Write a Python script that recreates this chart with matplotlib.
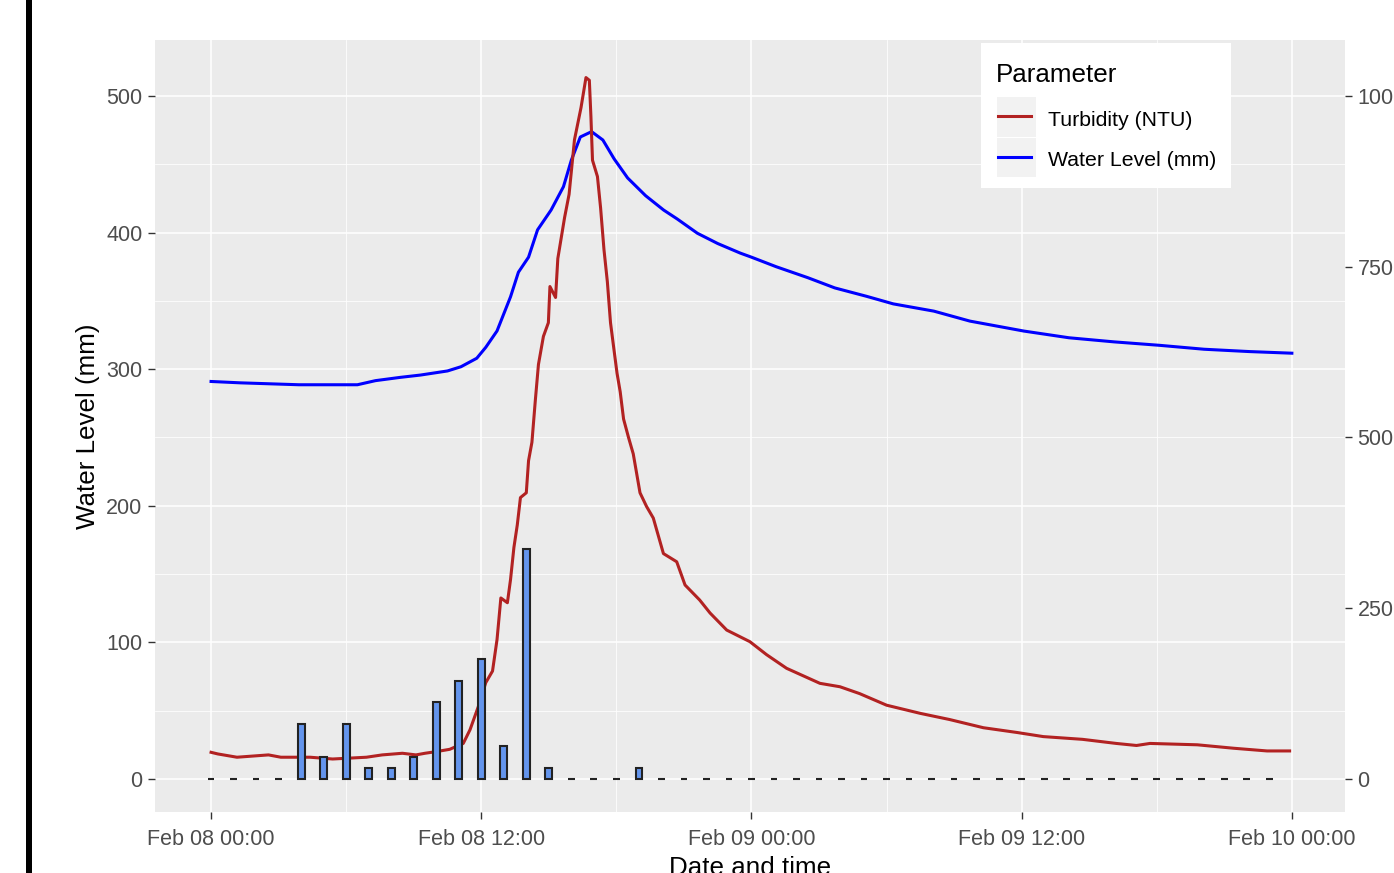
import matplotlib
matplotlib.use("Agg")
import matplotlib.pyplot as plt
from matplotlib.patches import Rectangle
from matplotlib.lines import Line2D
import numpy as np

plt.rcParams['font.family'] = ['Liberation Sans', 'DejaVu Sans']

# ---------------- data (hours after Feb 08 00:00) ----------------
rain_hours = list(range(0, 48))
rain_values = [0, 0, 0, 0, 40, 16, 40, 8, 8, 16, 56, 72, 88, 24, 168, 8,
               0, 0, 0, 8] + [0] * 28

wl_hours = [0, 1.3, 3.9, 6.5, 7.3, 8.4, 9.3, 10.5, 11.1, 11.8,
            12.2, 12.7, 13.3, 13.65, 14.1, 14.5, 15.1, 15.65, 16.0, 16.4,
            16.9, 17.4, 17.9, 18.5, 19.3, 20.1, 20.7, 21.6, 22.5, 23.5,
            24.0, 25.1, 26.5, 27.7, 29.1, 30.3, 32.1, 33.7, 36.1, 38.1,
            40.1, 42.1, 44.1, 46.1, 48.0]
wl_values = [291, 290, 288.6, 288.6, 291.6, 294, 295.7, 298.7, 301.8, 308,
             316, 328, 353, 371, 382, 402, 416.5, 433.6, 453, 470,
             473.9, 467.8, 454, 440, 427, 416.5, 410, 399.5, 392, 385,
             382, 375, 367, 359.5, 353.4, 347.8, 342.5, 335.2, 327.9, 323,
             320, 317.5, 314.6, 312.9, 311.7]

turb_hours = [0, 0.3, 1.15, 2.55, 3.1, 4.4, 5.4, 6.9, 7.6, 8.5,
              9.1, 9.5, 10.0, 10.6, 11.2, 11.5, 11.87, 12.2, 12.5, 12.7,
              12.87, 13.16, 13.3, 13.45, 13.6, 13.74, 14.0, 14.1, 14.25, 14.4,
              14.54, 14.76, 14.98, 15.05, 15.3, 15.4, 15.7, 15.9, 16.14, 16.43,
              16.65, 16.8, 16.87, 16.94, 17.16, 17.3, 17.45, 17.6, 17.74, 17.9,
              18.03, 18.17, 18.32, 18.54, 18.75, 19.05, 19.34, 19.64, 20.09, 20.68,
              21.05, 21.7, 22.16, 22.9, 23.93, 24.67, 25.56, 27.04, 27.93, 28.8,
              30.0, 31.5, 32.8, 34.3, 35.8, 36.96, 38.7, 40.2, 41.1, 41.7,
              43.8, 45.4, 46.9, 47.9]
turb_values = [39, 36.6, 31.8, 35.2, 31.8, 31.8, 29.2, 31.8, 35.2, 37.6,
               35.2, 37.6, 40, 43.4, 52, 72, 106, 141, 158, 204,
               265, 258, 292, 339, 372, 412, 419, 466, 493, 554,
               607, 648, 668, 721, 705, 762, 822, 856, 936, 983,
               1027, 1023, 970, 906, 882, 836, 775, 728, 668, 627,
               594, 567, 527, 500, 476, 419, 399, 382, 330, 318,
               284, 262, 243, 218, 201, 182, 162, 140, 135, 125,
               108, 96, 87, 75, 68, 62, 58, 52, 49, 52,
               50, 45, 41, 41]

x_tick_hours = [0, 12, 24, 36, 48]
x_tick_labels = ["Feb 08 00:00", "Feb 08 12:00", "Feb 09 00:00",
                 "Feb 09 12:00", "Feb 10 00:00"]
series_names = ["Turbidity (NTU)", "Water Level (mm)"]
series_colors = ["#B22222", "#0000FF"]

# ---------------- figure ----------------
W, H = 1394, 873
fig = plt.figure(figsize=(W / 100, H / 100), dpi=100)
fig.patch.set_facecolor("white")

def fx(px):
    return px / W

def fy(py):
    return 1 - py / H

# black bar at the far left
fig.patches.append(Rectangle((fx(26), 0), fx(32) - fx(26), 1, transform=fig.transFigure,
                             facecolor="black", edgecolor="none", zorder=5))

ax = fig.add_axes([fx(155), fy(812), fx(1345) - fx(155), fy(40) - fy(812)])
ax.set_facecolor("#EBEBEB")
for s in ax.spines.values():
    s.set_visible(False)

ax.set_xlim(-2.49, 50.36)
ax.set_ylim(-24.2, 541.0)

ax.set_xticks(x_tick_hours)
ax.set_xticklabels(x_tick_labels)
ax.set_xticks([6, 18, 30, 42], minor=True)
ax.set_yticks([0, 100, 200, 300, 400, 500])
ax.set_yticks([50, 150, 250, 350, 450], minor=True)

ax.grid(which="major", color="white", linewidth=1.1, zorder=0)
ax.grid(which="minor", color="white", linewidth=0.55, zorder=0)
ax.set_axisbelow(True)

ax.tick_params(axis="both", which="major", labelsize=15.5, labelcolor="#4D4D4D",
               color="#333333", length=5, width=1.0, pad=4)
ax.tick_params(axis="x", which="major", pad=7.5)
ax.tick_params(axis="both", which="minor", length=0)

# lines (turbidity on half scale of primary axis)
ax.plot(wl_hours, wl_values, color=series_colors[1], linewidth=2.2, zorder=2)
ax.plot(turb_hours, np.array(turb_values) / 2.0, color=series_colors[0],
        linewidth=2.2, zorder=2)

# rainfall bars
ax.bar(rain_hours, rain_values, width=0.3, color="#6495ED",
       edgecolor="#222222", linewidth=1.5, zorder=3)

# secondary axis
sec = ax.secondary_yaxis("right", functions=(lambda v: v * 2, lambda v: v / 2))
sec.set_yticks([0, 250, 500, 750, 1000])
for s in sec.spines.values():
    s.set_visible(False)
sec.tick_params(axis="y", labelsize=15.5, labelcolor="#4D4D4D", color="#333333",
                length=5, width=1.0, pad=4)

# axis titles
fig.text(fx(88), fy(426), "Water Level (mm)", rotation=90, ha="center", va="center",
         fontsize=18.7, color="black")
fig.text(fx(750), -0.002, "Date and time", ha="center", va="baseline",
         fontsize=18.7, color="black")

# legend (manual, ggplot style)
fig.patches.append(Rectangle((fx(981), fy(188)), fx(1231) - fx(981), fy(43) - fy(188),
                             transform=fig.transFigure, facecolor="white",
                             edgecolor="none", zorder=6))
fig.text(fx(996), fy(82), "Parameter", fontsize=18.7, ha="left", va="baseline",
         color="black", zorder=7)
key_tops = [97, 137.5]
label_baselines = [126, 166]
for i, name in enumerate(series_names):
    fig.patches.append(Rectangle((fx(997), fy(key_tops[i] + 39.5)), fx(1036) - fx(997), 39.5 / H,
                                 transform=fig.transFigure, facecolor="#F2F2F2",
                                 edgecolor="none", zorder=7))
    yc = key_tops[i] + 19
    fig.lines.append(Line2D([fx(998), fx(1031)], [fy(yc), fy(yc)], transform=fig.transFigure,
                            color=series_colors[i], linewidth=2.2, zorder=8))
    fig.text(fx(1048), fy(label_baselines[i]), name, fontsize=15.3, ha="left",
             va="baseline", color="black", zorder=8)

fig.savefig("out.png", dpi=100)
